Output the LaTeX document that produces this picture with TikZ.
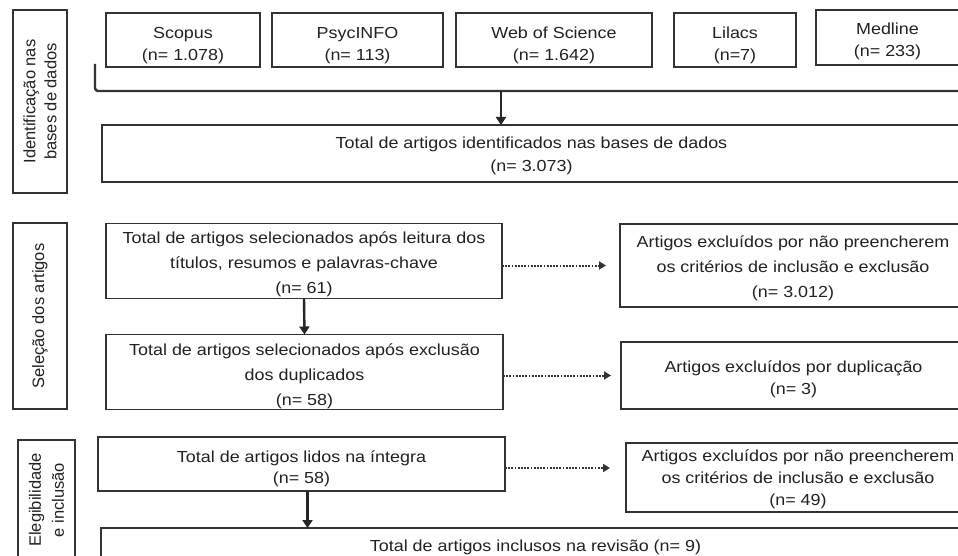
\documentclass[tikz,border=0pt]{standalone}
\usepackage{fontspec}
\setmainfont[FakeStretch=1.12]{Liberation Sans}
\newfontfamily\labfont{Liberation Sans}
\usetikzlibrary{arrows.meta}
\definecolor{ink}{HTML}{222222}
\definecolor{edge}{HTML}{333333}
\newcommand\mltext[2]{\raisebox{#1}[\height][\depth]{\begin{tabular}{@{}c@{}}#2\end{tabular}}}
\tikzset{
  box/.style={draw=edge, line width=1.8pt, inner sep=0pt, outer sep=0pt, align=center, text=ink, font=\fontsize{16}{24}\selectfont},
  lab/.style={box, rotate=90, font=\labfont\fontsize{16.5}{21}\selectfont},
  arr/.style={draw=black!85, line width=2.4pt, -{Triangle[width=10pt,length=8pt]}},
  dotarr/.style={draw=black!80, line width=2pt, dash pattern=on 1.8pt off 1.4pt, -{Triangle[width=8pt,length=7pt]}},
  brk/.style={draw=black!80, line width=2.4pt, rounded corners=3pt},
}
\begin{document}
\begin{tikzpicture}[x=1pt,y=-1pt]
\useasboundingbox (0,0) rectangle (958,556);
\clip (0,0) rectangle (958,556);
\fill[white] (0,0) rectangle (958,556);
% side labels
\node[lab, minimum width=183pt, minimum height=54pt] (lab1) at (40,101.5) {Identificação nas\\bases de dados};
\node[lab, minimum width=186pt, minimum height=54pt] (lab2) at (40,316) {Seleção dos artigos};
\node[lab, minimum width=120pt, minimum height=57pt, font=\labfont\fontsize{16.5}{23}\selectfont] (lab3) at (46.5,500) {Elegibilidade\\e inclusão};
% databases
\node[box, minimum width=154pt, minimum height=54pt, font=\fontsize{16}{22}\selectfont] (scopus) at (183,40) {\mltext{-5pt}{Scopus\\(n= 1.078)}};
\node[box, minimum width=171pt, minimum height=54pt, font=\fontsize{16}{22}\selectfont] (psyc) at (357.5,40) {\mltext{-5pt}{PsycINFO\\(n= 113)}};
\node[box, minimum width=196pt, minimum height=54pt, font=\fontsize{16}{22}\selectfont] (wos) at (554,40) {\mltext{-5pt}{Web of Science\\(n= 1.642)}};
\node[box, minimum width=122pt, minimum height=54pt, font=\fontsize{16}{22}\selectfont] (lilacs) at (735,40) {\mltext{-5pt}{Lilacs\\(n=7)}};
\node[box, minimum width=143pt, minimum height=55pt, font=\fontsize{16}{22}\selectfont] (medline) at (887.5,37.5) {\mltext{-4pt}{Medline\\(n= 233)}};
% bracket
\coordinate (bl) at (95,64);
\coordinate (bc) at (95,91);
\coordinate (br) at (965,91);
\coordinate (bt) at (501,91);
\draw[brk] (bl) -- (bc) -- (br);
% total
\node[box, minimum width=859pt, minimum height=57pt, font=\fontsize{16}{23}\selectfont] (total) at (531.5,153.5) {\mltext{-2pt}{Total de artigos identificados nas bases de dados\\(n= 3.073)}};
\draw[arr] (bt) -- (bt |- total.north);
% selection
\node[box, minimum width=396pt, minimum height=74pt, font=\fontsize{16}{25}\selectfont] (A) at (304,261) {\mltext{-2.5pt}{Total de artigos selecionados após leitura dos\\títulos, resumos e palavras-chave\\(n= 61)}};
\node[box, minimum width=346pt, minimum height=83pt, font=\fontsize{16}{25}\selectfont] (C) at (793,265.5) {\mltext{-2pt}{Artigos excluídos por não preencherem\\os critérios de inclusão e exclusão\\(n= 3.012)}};
\node[box, minimum width=397pt, minimum height=74pt, font=\fontsize{16}{25}\selectfont] (B) at (304.5,372) {\mltext{-3pt}{Total de artigos selecionados após exclusão\\dos duplicados\\(n= 58)}};
\node[box, minimum width=345pt, minimum height=67pt, font=\fontsize{16}{22}\selectfont] (D) at (793.5,375.5) {\mltext{-4pt}{Artigos excluídos por duplicação\\(n= 3)}};
\draw[arr] (A.south) -- (B.north);
\draw[dotarr, shorten >=14pt] (A.east |- C.west) -- (C.west);
\draw[dotarr, shorten >=10pt] (B.east |- D.west) -- (D.west);
% eligibility
\node[box, minimum width=407pt, minimum height=54pt, font=\fontsize{16}{21}\selectfont] (E) at (301.5,464) {\mltext{-5pt}{Total de artigos lidos na íntegra\\(n= 58)}};
\node[box, minimum width=344pt, minimum height=69pt, font=\fontsize{16}{22}\selectfont] (F) at (798,477.5) {\mltext{-2pt}{Artigos excluídos por não preencherem\\os critérios de inclusão e exclusão\\(n= 49)}};
\node[box, line width=2.4pt, minimum width=869pt, minimum height=38pt] (final) at (535.5,547) {\mltext{0pt}{Total de artigos inclusos na revisão (n= 9)}};
\draw[arr] ([xshift=6pt]E.south) -- ([xshift=6pt]E.south |- final.north);
\coordinate (ef) at (505,468);
\draw[dotarr, shorten >=16pt] (ef) -- (ef -| F.west);
\end{tikzpicture}
\end{document}
